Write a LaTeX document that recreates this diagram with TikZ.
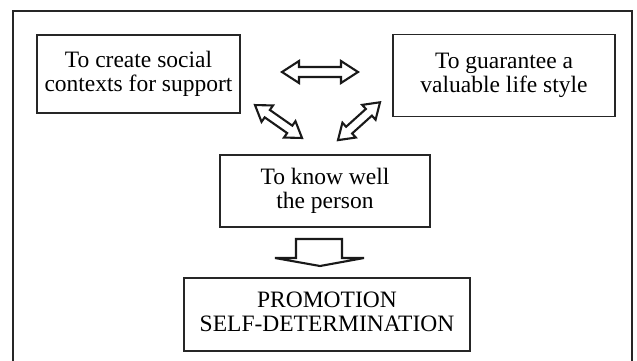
\documentclass[tikz,border=0pt]{standalone}
\usepackage{fontspec}
\setmainfont{Liberation Serif}
\begin{document}
\begin{tikzpicture}[x=1pt,y=-1pt,
  box/.style={draw=black!85, line width=1.2pt, align=center, inner sep=0pt,
    font=\fontsize{23.5}{24}\selectfont, text=black},
  arrowline/.style={draw=black!90, line width=2.1pt, line join=miter, fill=white},
  pics/dblarrow/.style args={#1/#2/#3/#4}{code={
    \draw[arrowline] (-#1,0) -- (-#1+#2,-#3) -- (-#1+#2,-#4) -- (#1-#2,-#4)
      -- (#1-#2,-#3) -- (#1,0) -- (#1-#2,#3) -- (#1-#2,#4) -- (-#1+#2,#4)
      -- (-#1+#2,#3) -- cycle;}}]
\useasboundingbox (0,0) rectangle (637,360);
% outer frame
\draw[draw=black!85, line width=1.5pt] (13,11) rectangle (632,366);
% boxes
\node[box, minimum width=203, minimum height=78] (social) at (138.5,74)
  {To create social\\contexts for support};
\node[box, minimum width=222, minimum height=82] (life) at (504,75.5)
  {To guarantee a\\valuable life style};
\node[box, minimum width=210, minimum height=72] (know) at (325,191)
  {To know well\\the person};
\node[box, minimum width=286, minimum height=73, text depth=6pt] (promo) at (327,314.5)
  {PROMOTION\\SELF-DETERMINATION};
% double arrows
\pic at (320,72) {dblarrow=38/17/11/5};
\pic[rotate=-35] at (278.5,121.5) {dblarrow=28.7/15/10/4.5};
\pic[rotate=42] at (359,121.2) {dblarrow=28.3/15/10/4.5};
% down arrow
\draw[arrowline] (296,239) -- (342,239) -- (342,258) -- (364,258) -- (320,266)
  -- (275,258) -- (296,258) -- cycle;
\end{tikzpicture}
\end{document}
